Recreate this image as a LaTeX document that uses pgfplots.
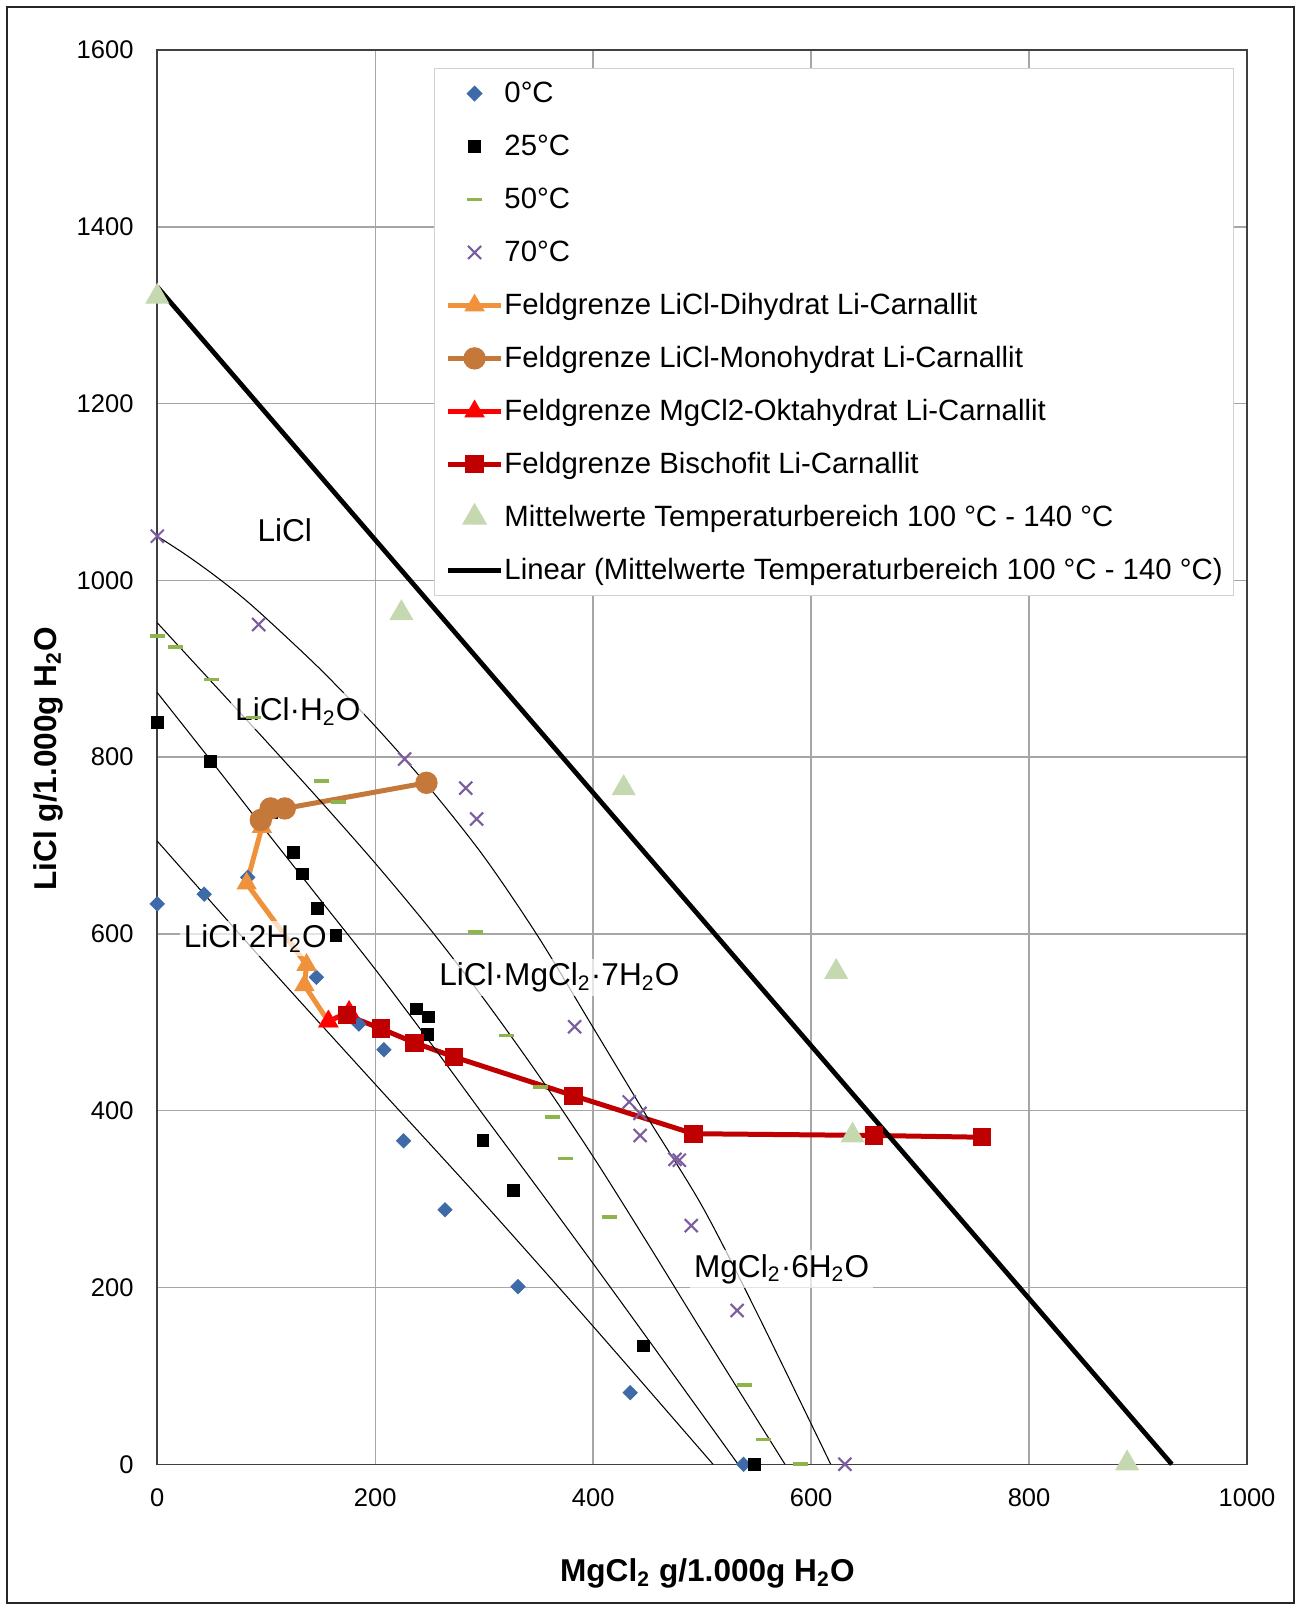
\documentclass[border=0pt]{standalone}
\usepackage{fontspec}
\setmainfont{Liberation Sans}
\usepackage{pgfplots}
\pgfplotsset{compat=1.18}

\definecolor{c0}{HTML}{3E6AA7}
\definecolor{c50}{HTML}{8DB54B}
\definecolor{c70}{HTML}{7B5C9E}
\definecolor{cdi}{HTML}{F0913C}
\definecolor{cmono}{HTML}{C4783A}
\definecolor{cokta}{HTML}{FF0000}
\definecolor{cbis}{HTML}{C00000}
\definecolor{cmit}{HTML}{C5D8B0}
\definecolor{cgrid}{HTML}{A6A6A6}

\begin{document}
\begin{tikzpicture}
\useasboundingbox (-59.77pt,-54.23pt) rectangle (434.6pt,556.43pt);
\draw[line width=0.7pt, black!85] (-57.1pt,-52.7pt) rectangle (432.1pt,553.9pt);
\begin{axis}[
  at={(0pt,0pt)}, anchor=south west, scale only axis,
  width=414.1pt, height=537.4pt,
  xmin=0, xmax=1000, ymin=0, ymax=1600,
  clip=false,
  xtick={0,200,...,1000}, ytick={0,200,...,1600},
  grid=major, major grid style={cgrid, line width=0.55pt},
  major tick length=0pt,
  axis line style={black!75, line width=0.6pt},
  tick label style={font=\fontsize{9.7}{11}\selectfont},
  /pgf/number format/assume math mode=true,
  /pgf/number format/1000 sep={},
  xticklabel style={yshift=-5.65pt},
  yticklabel style={xshift=-5.5pt},
  xlabel={MgCl\textsubscript{2} g/1.000g H\textsubscript{2}O},
  ylabel={LiCl g/1.000g H\textsubscript{2}O},
  xlabel style={at={(axis description cs:0.5048,-0.0770)}, anchor=center, font=\fontsize{12}{14}\selectfont\bfseries},
  ylabel style={at={(axis description cs:-0.1002,0.499)}, anchor=center, font=\fontsize{12}{14}\selectfont\bfseries},
  legend style={
    at={(axis description cs:0.2536,0.9875)}, anchor=north west,
    draw=black!18, line width=0.6pt, fill=white,
    font=\fontsize{11.15}{13}\selectfont,
    inner xsep=4.2pt, inner ysep=3pt,
    row sep=7.13pt,
    nodes={inner sep=0pt, text height=10pt, text depth=3pt},
    /tikz/every odd column/.append style={column sep=0.3pt},
  },
  legend cell align=left,
  legend image code/.code={\draw[mark repeat=2,mark phase=2,#1] plot coordinates {(0pt,0pt) (10.1pt,0pt) (20.2pt,0pt)};},
]

% 0 C
\addplot[only marks, mark=square*, mark size=1.87pt, mark options={rotate=45, draw=c0, fill=c0}] coordinates {
 (0,634) (43,645) (83,664) (146,551) (185,498) (208,469) (226,366) (264,288) (331,201) (434,81) (538,0)
};
\addlegendentry{0°C}
% 25 C
\addplot[only marks, mark=square*, mark size=2.2pt, mark options={draw=black, fill=black}] coordinates {
 (0,839) (49,795) (105,743) (105,737) (125,692) (133,668) (147,629) (164,598) (238,515) (249,506) (248,486) (299,366) (327,310) (446,134) (548,0)
};
\addlegendentry{25°C}
% 50 C
\addplot[only marks, mark=-, mark size=2.85pt, mark options={draw=c50, line width=1.4pt}] coordinates {
 (0,937) (17,925) (50,888) (88,845) (151,773) (166,749) (292,602) (320,485) (352,427) (363,393) (375,346) (415,280) (539,90) (556,28) (590,0)
};
\addlegendentry{50°C}
% 70 C
\addplot[only marks, mark=x, mark size=3.5pt, mark options={draw=c70, line width=0.8pt}] coordinates {
 (0,1050) (93,950) (227,798) (246,771) (283,765) (293,730) (383,495) (433,410) (443,397) (443,372) (475,345) (479,344) (492,373) (490,270) (532,174) (631,0)
};
\addlegendentry{70°C}
% Dihydrat
\addplot[cdi, line width=1.9pt, mark=triangle*, mark size=4pt, mark options={fill=cdi, line width=0.5pt}] coordinates {
 (96,721) (82,657) (137,565) (135,542) (157,501)
};
\addlegendentry{Feldgrenze LiCl-Dihydrat Li-Carnallit}
% Monohydrat
\addplot[cmono, line width=1.9pt, mark=*, mark size=4pt, mark options={fill=cmono, line width=0.5pt}] coordinates {
 (247,771) (117,742) (104,742) (95,729)
};
\addlegendentry{Feldgrenze LiCl-Monohydrat Li-Carnallit}
% Oktahydrat
\addplot[cokta, line width=1.9pt, mark=triangle*, mark size=4pt, mark options={fill=cokta, line width=0.5pt}] coordinates {
 (157,501) (176,512)
};
\addlegendentry{Feldgrenze MgCl2-Oktahydrat Li-Carnallit}
% Bischofit
\addplot[cbis, line width=1.9pt, mark=square*, mark size=3.2pt, mark options={fill=cbis, line width=0.5pt}] coordinates {
 (174,508) (205,493) (236,477) (272,461) (382,417) (492,374) (658,372) (757,370)
};
\addlegendentry{Feldgrenze Bischofit Li-Carnallit}
% Mittelwerte
\addplot[only marks, mark=triangle*, mark size=4.9pt, mark options={draw=cmit, fill=cmit}] coordinates {
 (0,1321) (224,963) (428,765) (623,557) (638,372) (890,1)
};
\addlegendentry{Mittelwerte Temperaturbereich 100 °C - 140 °C}
% Linear trend
\addplot[black, line width=1.8pt] coordinates {(0,1332) (931,0)};
\addlegendentry{Linear (Mittelwerte Temperaturbereich 100 °C - 140 °C)}

% isotherm curves
\addplot[forget plot, black, line width=0.4pt, smooth] coordinates {
 (0,705) (100,566) (200,430) (300,295) (400,156) (510,0)
};
\addplot[forget plot, black, line width=0.4pt, smooth] coordinates {
 (0,873) (50,795) (100,716) (150,638) (200,560) (250,478) (300,394) (350,311) (400,227) (450,142) (533,0)
};
\addplot[forget plot, black, line width=0.4pt, smooth] coordinates {
 (0,952) (50,885) (100,818) (150,750) (200,680) (250,606) (300,526) (350,440) (400,348) (450,250) (500,150) (576,0)
};
\addplot[forget plot, black, line width=0.4pt, smooth] coordinates {
 (0,1050) (25,1030) (50,1008) (75,984) (100,957) (150,899) (200,835) (250,765) (300,687) (350,596) (400,494) (450,392) (500,292) (550,172) (618,0)
};

% region labels
\node[font=\fontsize{12}{14}\selectfont] at (axis cs:117,1057) {LiCl};
\node[font=\fontsize{12}{14}\selectfont, fill=white, fill opacity=0.7, text opacity=1, inner sep=1.5pt] at (axis cs:129,852) {LiCl·H\textsubscript{2}O};
\node[font=\fontsize{12}{14}\selectfont, fill=white, fill opacity=0.7, text opacity=1, inner sep=1.5pt] at (axis cs:90,595) {LiCl·2H\textsubscript{2}O};
\node[font=\fontsize{12}{14}\selectfont, fill=white, fill opacity=0.7, text opacity=1, inner sep=1.5pt] at (axis cs:369,551) {LiCl·MgCl\textsubscript{2}·7H\textsubscript{2}O};
\node[font=\fontsize{12}{14}\selectfont, fill=white, fill opacity=0.7, text opacity=1, inner sep=1.5pt] at (axis cs:573,221) {MgCl\textsubscript{2}·6H\textsubscript{2}O};
\end{axis}
\end{tikzpicture}
\end{document}
